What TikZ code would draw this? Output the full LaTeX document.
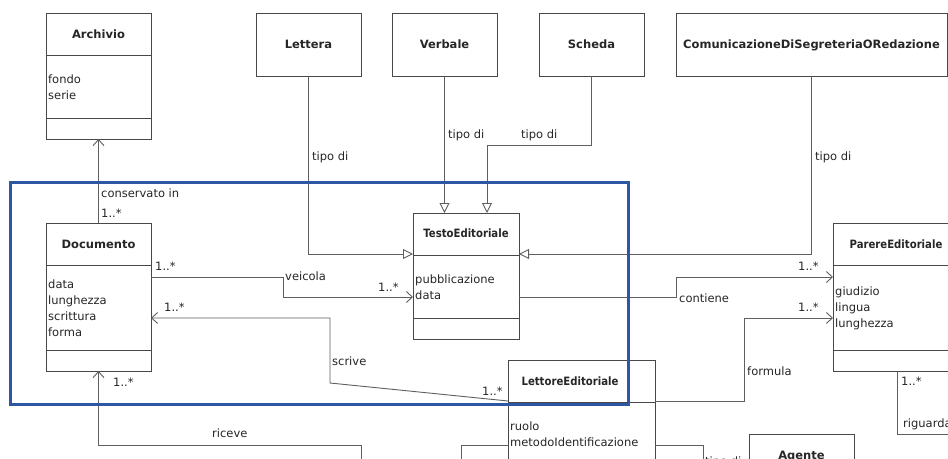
\documentclass[tikz,border=0pt]{standalone}
\usepackage{fontspec}
\setmainfont{DejaVu Sans}
\usepackage{graphicx}
\usetikzlibrary{arrows.meta,shadows}

\definecolor{frameblue}{RGB}{46,86,162}
\definecolor{boxline}{RGB}{72,72,72}
\definecolor{wirecol}{RGB}{95,95,95}
\newcommand\umlfont{\fontsize{11.5pt}{16pt}\selectfont}
\newcommand\narrow[1]{\scalebox{0.88}[1]{#1}}

\tikzset{
  cls/.style={draw=boxline, line width=0.9pt, fill=white, inner sep=0pt,
    outer sep=0pt, anchor=north west,
    drop shadow={shadow xshift=1.4pt, shadow yshift=-1.4pt, opacity=0.3, fill=black!60}},
  ttl/.style={font=\umlfont\bfseries, text=black!85, anchor=base, inner sep=0pt},
  attr/.style={font=\umlfont, text=black!85, anchor=base west, inner sep=0pt},
  lbl/.style={font=\umlfont, text=black!85, anchor=base west, inner sep=0pt},
  divider/.style={draw=boxline, line width=0.9pt},
  wire/.style={draw=wirecol, line width=0.9pt},
  assoc/.style={wire, -{Straight Barb[length=6pt,width=11pt]}},
  gen/.style={wire, -{Triangle[open,length=10pt,width=10pt,fill=white]}},
  focusframe/.style={draw=frameblue, line width=3pt},
}

\begin{document}
\begin{tikzpicture}[x=1pt,y=-1pt]
  \useasboundingbox (0,0) rectangle (948,458);
  \fill[white] (0,0) rectangle (948,458);
  \clip (0,0) rectangle (948,458);

  % ---- classes ----
  \node[cls, minimum width=105pt, minimum height=126pt] (archivio) at (46,13) {};
  \node[ttl] (archivio-t) at (98.5,38) {Archivio};
  \draw[divider] (archivio.west |- 0,55) -- (archivio.east |- 0,55);
  \draw[divider] (archivio.west |- 0,118) -- (archivio.east |- 0,118);
  \node[attr] (archivio-a1) at (48,83) {fondo};
  \node[attr] (archivio-a2) at (48,99) {serie};

  \node[cls, minimum width=105pt, minimum height=63pt] (lettera) at (256,13) {};
  \node[ttl] (lettera-t) at (308.5,48.5) {Lettera};
  \node[cls, minimum width=105pt, minimum height=63pt] (verbale) at (392,13) {};
  \node[ttl] (verbale-t) at (444.5,48.5) {Verbale};
  \node[cls, minimum width=105pt, minimum height=63pt] (scheda) at (539,13) {};
  \node[ttl] (scheda-t) at (591.5,48.5) {Scheda};
  \node[cls, minimum width=271pt, minimum height=63pt] (comunic) at (676,13) {};
  \node[ttl] (comunic-t) at (811.5,48.5) {ComunicazioneDiSegreteriaORedazione};

  \node[cls, minimum width=106pt, minimum height=126pt] (testo) at (413,213) {};
  \node[ttl] (testo-t) at (466,237) {\narrow{TestoEditoriale}};
  \draw[divider] (testo.west |- 0,255) -- (testo.east |- 0,255);
  \draw[divider] (testo.west |- 0,318) -- (testo.east |- 0,318);
  \node[attr] (testo-a1) at (415,283) {pubblicazione};
  \node[attr] (testo-a2) at (415,299) {data};

  \node[cls, minimum width=105pt, minimum height=148pt] (documento) at (46,223) {};
  \node[ttl] (documento-t) at (98.5,248) {Documento};
  \draw[divider] (documento.west |- 0,265) -- (documento.east |- 0,265);
  \draw[divider] (documento.west |- 0,350) -- (documento.east |- 0,350);
  \foreach \t [count=\i] in {data,lunghezza,scrittura,forma}
    \node[attr] (documento-a\i) at (48,272+16*\i) {\t};

  \node[cls, minimum width=137pt, minimum height=148pt] (parere) at (833,223) {};
  \node[ttl] (parere-t) at (896,248) {\narrow{ParereEditoriale}};
  \draw[divider] (parere.west |- 0,265) -- (parere.east |- 0,265);
  \draw[divider] (parere.west |- 0,350) -- (parere.east |- 0,350);
  \foreach \t [count=\i] in {giudizio,lingua,lunghezza}
    \node[attr] (parere-a\i) at (835,279+16*\i) {\t};

  \node[cls, minimum width=147pt, minimum height=160pt] (lettore) at (508,360) {};
  \node[ttl] (lettore-t) at (570,385) {\narrow{LettoreEditoriale}};
  \draw[divider] (lettore.west |- 0,402) -- (lettore.east |- 0,402);
  \node[attr] (lettore-a1) at (510,430) {ruolo};
  \node[attr] (lettore-a2) at (510,446) {metodoIdentificazione};

  \node[cls, minimum width=105pt, minimum height=70pt] (agente) at (749,434) {};
  \node[ttl] (agente-t) at (801.5,459) {Agente};

  % ---- generalisations ----
  \draw[gen] (lettera.south) |- (testo.west |- 0,254);
  \draw[gen] (verbale.south) -- (verbale.south |- testo.north);
  \coordinate (scheda-bend) at (487,145);
  \draw[gen] (scheda.south) |- (scheda-bend) -- (scheda-bend |- testo.north);
  \draw[gen] (comunic.south) |- (testo.east |- 0,254);

  % ---- associations ----
  \draw[assoc] (documento.north) -- (archivio.south);
  \draw[assoc] (documento.east |- 0,277) -- (283,277) -- (283,297) -- (testo.west |- 0,297);
  \draw[assoc] (lettore.west |- 0,401) -- (330,383) -- (330,318) -- (documento.east |- 0,318);
  \draw[assoc] (testo.east |- 0,297) -- (676,297) -- (676,277) -- (parere.west |- 0,277);
  \draw[assoc] (lettore.east |- 0,401) -- (744,401) -- (744,318) -- (parere.west |- 0,318);
  \coordinate (riguarda-end) at (990,434);
  \draw[wire] (parere.south -| 897,0) |- (riguarda-end);
  \coordinate (riceve-end) at (361,490);
  \draw[assoc] (riceve-end) |- (documento.south |- 0,445) -- (documento.south);
  \coordinate (lettore-left-end) at (461,490);
  \draw[wire] (lettore.west |- 0,445) -| (lettore-left-end);
  \coordinate (agente-link) at (703,490);
  \draw[wire] (lettore.east |- 0,445) -| (agente-link);

  % ---- connector labels ----
  \node[lbl] (l-tipo1) at (312,160) {tipo di};
  \node[lbl] (l-tipo2) at (448,138) {tipo di};
  \node[lbl] (l-tipo3) at (521,138) {tipo di};
  \node[lbl] (l-tipo4) at (815,160) {tipo di};
  \node[lbl] (l-tipo5) at (705,465) {tipo di};
  \node[lbl] (l-cons) at (101,197) {conservato in};
  \node[lbl] (l-cons-m) at (101,217) {1..*};
  \node[lbl] (l-veic-m1) at (155,270) {1..*};
  \node[lbl] (l-veic) at (285,280) {veicola};
  \node[lbl] (l-veic-m2) at (378,291) {1..*};
  \node[lbl] (l-scr-m1) at (164,311) {1..*};
  \node[lbl] (l-scr) at (332,365) {scrive};
  \node[lbl] (l-scr-m2) at (482,395) {1..*};
  \node[lbl] (l-ric-m) at (113,386) {1..*};
  \node[lbl] (l-ric) at (212,437) {riceve};
  \node[lbl] (l-cont) at (679,302) {contiene};
  \node[lbl] (l-cont-m) at (798,270) {1..*};
  \node[lbl] (l-form-m) at (798,311) {1..*};
  \node[lbl] (l-form) at (747,375) {formula};
  \node[lbl] (l-rig-m) at (901,385) {1..*};
  \node[lbl] (l-rig) at (903,427) {riguarda};

  % ---- highlighted region ----
  \draw[focusframe] (10.5,182.5) rectangle (628.3,404.7);
\end{tikzpicture}
\end{document}
